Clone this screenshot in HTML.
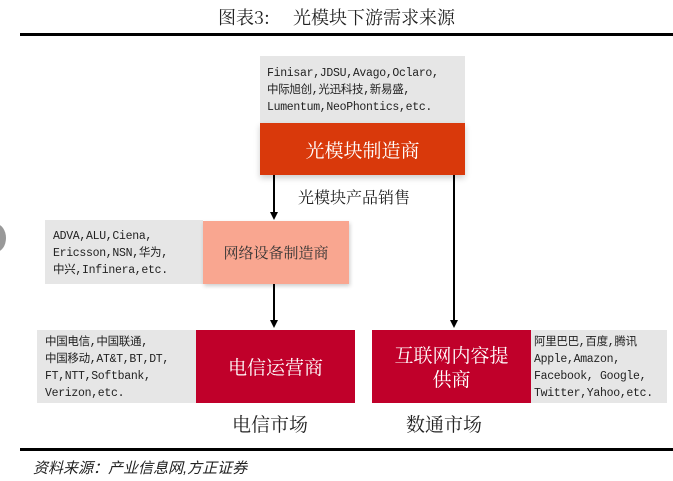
<!DOCTYPE html>
<html><head><meta charset="utf-8"><style>
body{margin:0;width:673px;height:481px;background:#fff;position:relative;overflow:hidden;font-family:"Liberation Sans","Noto Sans CJK SC",sans-serif;}
div{position:absolute;box-sizing:border-box;}
.g{background:#e6e6e6;color:#222;font-family:"Liberation Mono","Noto Sans CJK SC",monospace;font-size:11.5px;line-height:17px;white-space:nowrap;letter-spacing:-0.3px;}
.c{display:flex;align-items:center;justify-content:center;text-align:center;font-family:"Noto Serif CJK SC",serif;}
.v{width:2px;background:#000;}
.ah{width:0;height:0;border-left:4px solid transparent;border-right:4px solid transparent;border-top:8px solid #000;}
</style></head><body>
<div style="left:0;top:4px;width:673px;text-align:center;font-size:18px;color:#222;font-family:'Noto Serif CJK SC',serif;">图表3:&nbsp;&nbsp;&nbsp;&nbsp;&nbsp;光模块下游需求来源</div>
<div style="left:20px;top:33px;width:653px;height:3px;background:#000;"></div>
<div style="left:-14px;top:224px;width:20px;height:28px;border-radius:50%;background:#999;"></div>

<div class="g" style="left:260px;top:56px;width:205px;height:67px;padding:9px 0 0 7px;">Finisar,JDSU,Avago,Oclaro,<br>中际旭创,光迅科技,新易盛,<br>Lumentum,NeoPhontics,etc.</div>
<div class="c" style="left:260px;top:123px;width:205px;height:52px;background:#d9390b;color:#fff;font-size:19px;box-shadow:0 3px 6px rgba(0,0,0,.2);">光模块制造商</div>

<div class="v" style="left:273px;top:175px;height:38px;"></div>
<div class="ah" style="left:270px;top:212px;"></div>
<div class="v" style="left:453px;top:175px;height:145px;"></div>
<div class="ah" style="left:450px;top:320px;"></div>
<div style="left:298px;top:185px;font-size:16px;color:#222;font-family:'Noto Serif CJK SC',serif;">光模块产品销售</div>

<div class="g" style="left:45px;top:220px;width:158px;height:64px;padding:8px 0 0 8px;">ADVA,ALU,Ciena,<br>Ericsson,NSN,华为,<br>中兴,Infinera,etc.</div>
<div class="c" style="left:203px;top:221px;width:146px;height:63px;background:#f9a690;color:#333;font-size:15px;box-shadow:1px 2px 4px rgba(0,0,0,.2);">网络设备制造商</div>

<div class="v" style="left:273px;top:284px;height:37px;"></div>
<div class="ah" style="left:270px;top:320px;"></div>

<div class="g" style="left:37px;top:330px;width:159px;height:73px;padding:4px 0 0 8px;">中国电信,中国联通,<br>中国移动,AT&amp;T,BT,DT,<br>FT,NTT,Softbank,<br>Verizon,etc.</div>
<div class="c" style="left:196px;top:330px;width:159px;height:73px;background:#c0002a;color:#fff;font-size:19px;">电信运营商</div>
<div class="c" style="left:372px;top:330px;width:159px;height:73px;background:#c0002a;color:#fff;font-size:19px;line-height:24px;">互联网内容提<br>供商</div>
<div class="g" style="left:531px;top:330px;width:136px;height:73px;padding:4px 0 0 3px;">阿里巴巴,百度,腾讯<br>Apple,Amazon,<br>Facebook, Google,<br>Twitter,Yahoo,etc.</div>

<div style="left:232px;top:410px;font-size:19px;color:#222;font-family:'Noto Serif CJK SC',serif;">电信市场</div>
<div style="left:406px;top:410px;font-size:19px;color:#222;font-family:'Noto Serif CJK SC',serif;">数通市场</div>

<div style="left:20px;top:448px;width:653px;height:3px;background:#000;"></div>
<div style="left:33px;top:457px;font-size:15px;font-style:italic;color:#222;">资料来源：产业信息网,方正证券</div>
</body></html>
